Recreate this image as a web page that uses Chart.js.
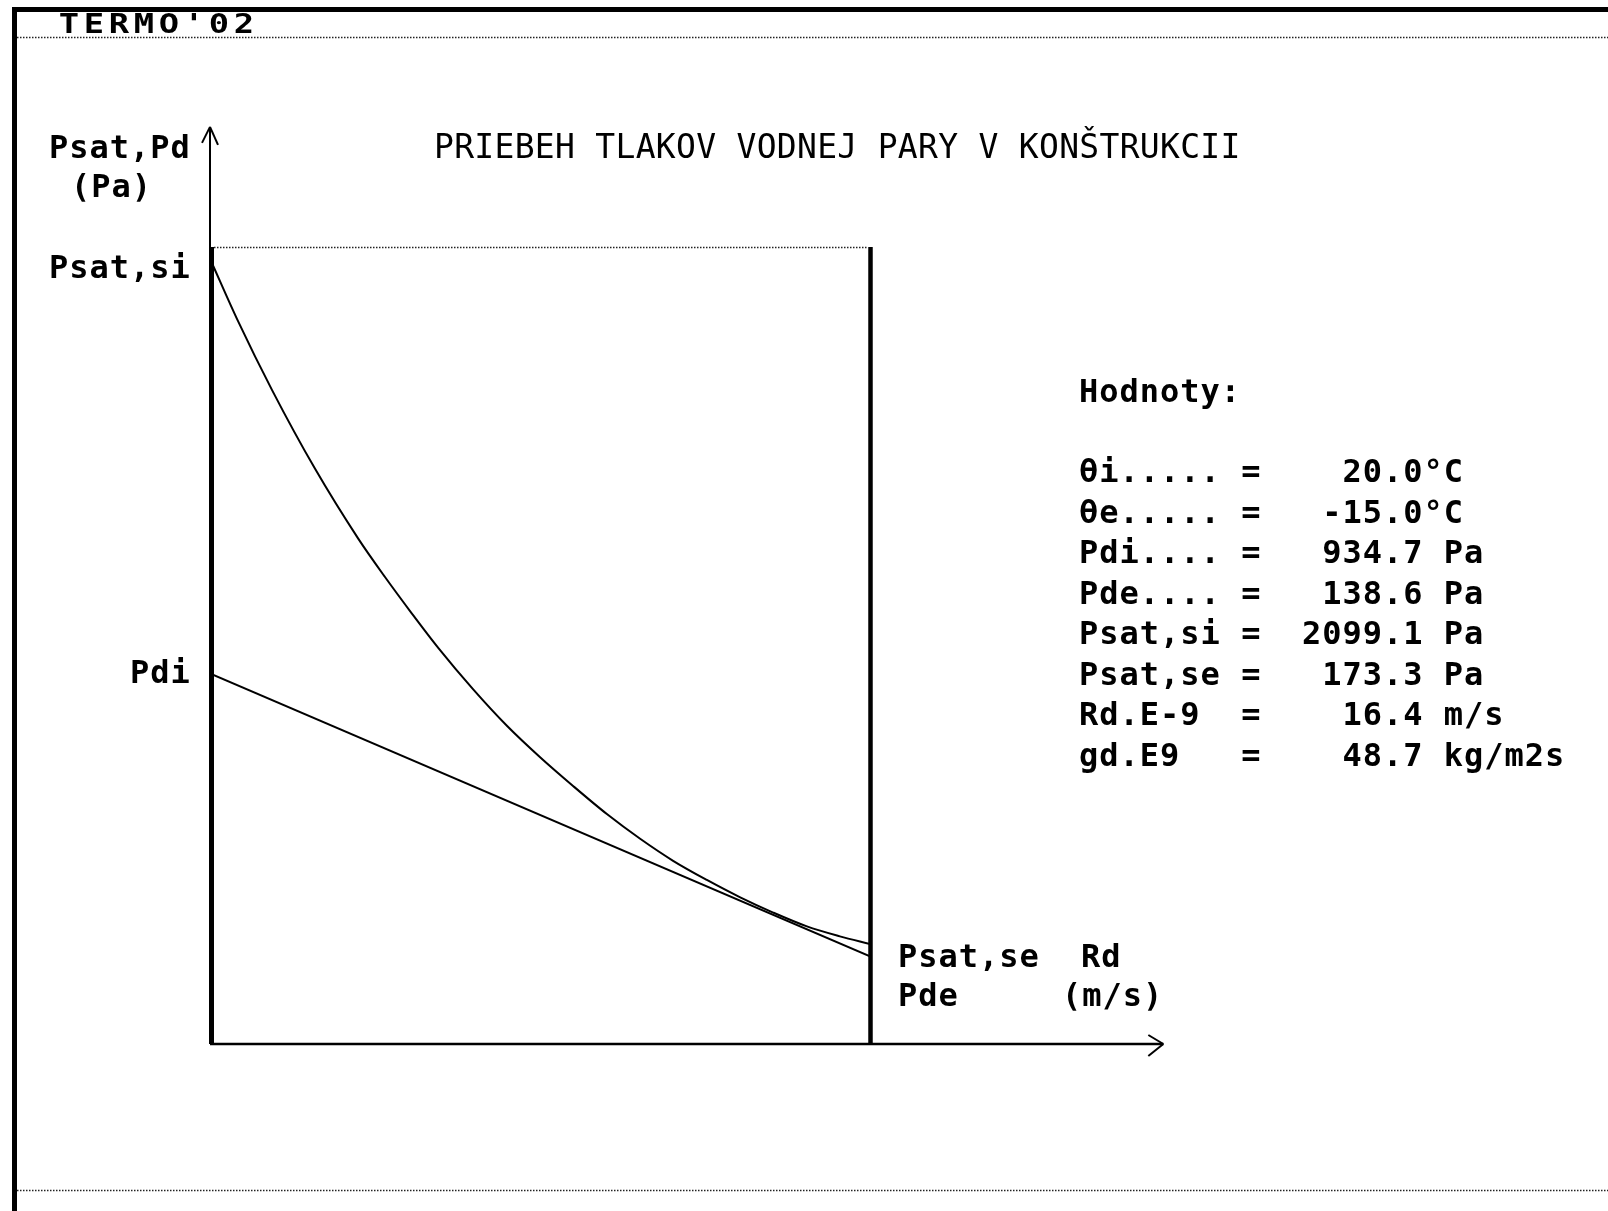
<!DOCTYPE html>
<html>
<head>
<meta charset="utf-8">
<script src="https://cdn.jsdelivr.net/npm/chart.js@4.4.1/dist/chart.umd.min.js"></script>
<style>
  html, body { margin: 0; padding: 0; background: #fff; }
  canvas { display: block; }
</style>
</head>
<body>
<canvas id="vaporChart" width="1608" height="1211"></canvas>
<script>
// Rd (diffusion resistance, E-9 m/s) along the construction
const rdPoints = [0, 0.67, 1.52, 2.59, 3.66, 4.33, 5.00, 5.65, 6.52, 7.37, 8.19,
  9.01, 9.86, 10.68, 11.50, 12.34, 13.17, 13.99, 14.83, 15.65, 16.4];
// saturated vapour pressure Psat (Pa)
const psatPoints = [2099.1, 1930, 1735, 1513, 1317, 1208, 1105, 1009, 892, 788, 700,
  619, 539, 470, 408, 354, 305, 262, 223, 195, 173.3];
// partial vapour pressure Pd (Pa), straight line Pdi -> Pde
const rdEnds = [0, 16.4];
const pdPoints = [934.7, 138.6];

// axis extents (value units)
const X_MIN = 0, X_MAX = 16.4, X_ARROW = 23.7;
const Y_MIN = -108.5, Y_MAX = 2138.4, Y_ARROW = 2477;

const titleText = 'PRIEBEH TLAKOV VODNEJ PARY V KONŠTRUKCII';
const valueNames = ['θi.....', 'θe.....', 'Pdi....', 'Pde....', 'Psat,si', 'Psat,se', 'Rd.E-9', 'gd.E9'];
const valueNumbers = ['20.0', '-15.0', '934.7', '138.6', '2099.1', '173.3', '16.4', '48.7'];
const valueUnits = ['°C', '°C', ' Pa', ' Pa', ' Pa', ' Pa', ' m/s', ' kg/m2s'];

const MONO = '"DejaVu Sans Mono", monospace';
const BOLD = 'bold 32px ' + MONO;

const ctx = document.getElementById('vaporChart').getContext('2d');

function dotted(c, x1, y1, x2, y2) {
  c.save();
  c.strokeStyle = '#222';
  c.lineWidth = 1.5;
  c.setLineDash([1.5, 1.5]);
  c.beginPath();
  c.moveTo(x1, y1);
  c.lineTo(x2, y2);
  c.stroke();
  c.restore();
}

function line(c, x1, y1, x2, y2, w) {
  c.lineWidth = w;
  c.beginPath();
  c.moveTo(x1, y1);
  c.lineTo(x2, y2);
  c.stroke();
}

const framePlugin = {
  id: 'frame',
  beforeDatasetsDraw: chart => {
    const c = chart.ctx;
    const xs = chart.scales.x, ys = chart.scales.y;
    const x0 = xs.getPixelForValue(X_MIN), x1 = xs.getPixelForValue(X_MAX);
    const yb = ys.getPixelForValue(Y_MIN), yt = ys.getPixelForValue(Y_MAX);
    const xa = xs.getPixelForValue(X_ARROW), ya = ys.getPixelForValue(Y_ARROW);
    c.save();
    c.fillStyle = '#000';
    c.strokeStyle = '#000';
    // window frame
    c.fillRect(12, 7, 1596, 5);
    c.fillRect(12, 7, 5, 1204);
    dotted(c, 17, 37.5, 1608, 37.5);
    dotted(c, 17, 1190.5, 1608, 1190.5);
    // axes
    line(c, x0 - 1, ya, x0 - 1, yb, 2);
    line(c, x0 - 1, yb, xa, yb, 2.5);
    // arrows
    line(c, x0 - 9, ya + 16, x0 - 1, ya, 2);
    line(c, x0 - 1, ya, x0 + 7, ya + 18, 2);
    line(c, xa - 15, yb - 9, xa, yb, 2);
    line(c, xa, yb, xa - 15, yb + 12, 2);
    // construction box
    line(c, x0 + 0.5, yt, x0 + 0.5, yb, 5);
    line(c, x1 + 0.5, yt, x1 + 0.5, yb, 4.5);
    dotted(c, x0 + 3, yt + 0.5, x1 - 2, yt + 0.5);
    c.restore();
  },
  afterDraw: chart => {
    const c = chart.ctx;
    c.save();
    c.fillStyle = '#000';
    c.textBaseline = 'alphabetic';
    // program name, wide blocky letters
    c.font = 'bold 26px ' + MONO;
    c.textAlign = 'center';
    "TERMO'02".split('').forEach((ch, i) => {
      c.save();
      c.translate(69 + i * 25, 33);
      c.scale(1.3, 1);
      c.fillText(ch, 0, 0);
      c.restore();
    });
    c.textAlign = 'left';
    // title
    c.font = '33px ' + MONO;
    c.letterSpacing = '0.3px';
    c.fillText(titleText, 434, 158);
    // axis labels
    c.font = BOLD;
    c.letterSpacing = '1px';
    c.fillText('Psat,Pd', 49, 158);
    c.fillText('(Pa)', 71, 197);
    c.fillText('Psat,si', 49, 278);
    c.fillText('Pdi', 130, 683);
    c.fillText('Psat,se', 898, 967);
    c.fillText('Pde', 898, 1006);
    c.fillText('Rd', 1081, 967);
    c.fillText('(m/s)', 1062, 1006);
    // values
    c.fillText('Hodnoty:', 1079, 402);
    valueNames.forEach((name, i) => {
      const row = name.padEnd(8) + '=' + valueNumbers[i].padStart(8) + valueUnits[i];
      c.fillText(row, 1079, 482 + i * 40.5);
    });
    c.restore();
  }
};

const config = {
  type: 'scatter',
  data: {
    datasets: [
      {
        label: 'Psat',
        data: rdPoints.map((x, i) => ({ x: x, y: psatPoints[i] })),
        showLine: true,
        borderColor: '#000',
        borderWidth: 2,
        cubicInterpolationMode: 'monotone',
      },
      {
        label: 'Pd',
        data: rdEnds.map((x, i) => ({ x: x, y: pdPoints[i] })),
        showLine: true,
        borderColor: '#000',
        borderWidth: 2,
      },
    ]
  },
  options: {
    responsive: false,
    animation: false,
    devicePixelRatio: 1,
    layout: {
      padding: { left: 211, right: 738, top: 247, bottom: 167 }
    },
    plugins: {
      legend: { display: false },
      tooltip: { enabled: false },
      title: { display: false },
    },
    elements: {
      point: { radius: 0, hitRadius: 0 },
    },
    scales: {
      x: { type: 'linear', display: false, min: X_MIN, max: X_MAX },
      y: { type: 'linear', display: false, min: Y_MIN, max: Y_MAX },
    },
  },
  plugins: [framePlugin]
};

const chartInstance = new Chart(ctx, config);
</script>
</body>
</html>
